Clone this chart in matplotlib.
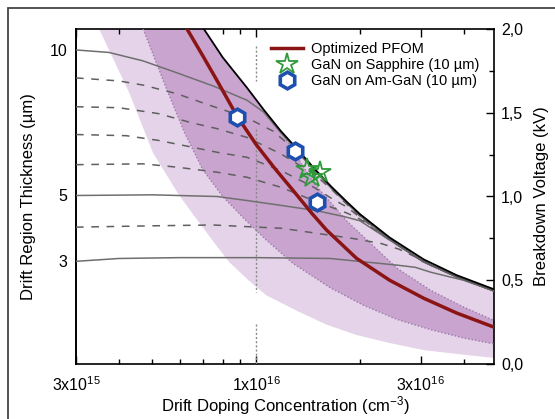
import matplotlib
matplotlib.use("Agg")
import matplotlib.pyplot as plt
from matplotlib.patches import Rectangle
from matplotlib.ticker import FixedLocator, NullFormatter

plt.rcParams['font.family'] = ['Liberation Sans', 'DejaVu Sans']
plt.rcParams['mathtext.fontset'] = 'custom'
plt.rcParams['mathtext.rm'] = 'Liberation Sans'
plt.rcParams['mathtext.it'] = 'Liberation Sans:italic'

# doping in 1e16 cm^-3, breakdown voltage in kV
black_n = [0.705, 0.80, 0.94, 1.05, 1.18, 1.32, 1.47, 1.65, 1.84, 2.0, 2.44, 3.06, 3.82, 4.9]
black_bv = [2.0, 1.83, 1.65, 1.52, 1.39, 1.28, 1.17, 1.06, 0.965, 0.895, 0.755, 0.625, 0.53, 0.446]

red_n = [0.63, 0.70, 0.766, 0.88, 1.0, 1.13, 1.28, 1.45, 1.6, 1.955, 2.44, 3.06, 3.82, 4.9]
red_bv = [2.0, 1.84, 1.70, 1.48, 1.31, 1.17, 1.036, 0.90, 0.80, 0.631, 0.50, 0.393, 0.304, 0.22]

light_n = [0.35, 0.428, 0.502, 0.598, 0.68, 0.766, 0.836, 0.95, 1.07, 1.335, 1.6, 1.955, 2.44, 3.06, 3.82, 4.9]
light_bv = [2.0, 1.62, 1.26, 1.006, 0.85, 0.708, 0.607, 0.50, 0.41, 0.31, 0.235, 0.173, 0.125, 0.083, 0.06, 0.036]

dark_lo_n = [0.47, 0.545, 0.62, 0.70, 0.80, 0.92, 1.07, 1.28, 1.64, 2.05, 2.57, 3.21, 4.0, 4.9]
dark_lo_bv = [2.0, 1.66, 1.38, 1.16, 1.0, 0.87, 0.74, 0.60, 0.455, 0.35, 0.265, 0.205, 0.155, 0.12]

dark_hi_n = [1.18, 1.47, 1.84, 2.2, 2.57, 3.21, 4.0, 4.9]
dark_hi_bv = [1.39, 1.08, 0.85, 0.70, 0.57, 0.44, 0.34, 0.26]

# constant-thickness curves (um)
t10_n = [0.3, 0.374, 0.469, 0.586, 0.75, 0.94, 1.05, 1.18, 1.32, 1.47, 1.65, 2.0, 2.44, 3.06, 3.82, 4.9]
t10_bv = [1.875, 1.86, 1.81, 1.74, 1.66, 1.575, 1.505, 1.38, 1.27, 1.16, 1.05, 0.885, 0.745, 0.61, 0.52, 0.436]
t9_n = [0.3, 0.4, 0.47, 0.59, 0.72, 0.94, 1.12, 1.32, 1.47, 1.65, 2.0, 2.44, 3.06, 3.82, 4.9]
t9_bv = [1.708, 1.69, 1.665, 1.613, 1.55, 1.47, 1.39, 1.265, 1.16, 1.05, 0.885, 0.745, 0.61, 0.52, 0.436]
t8_n = [0.3, 0.4, 0.52, 0.65, 0.77, 0.94, 1.18, 1.47, 1.65, 1.84, 2.0, 2.44, 3.06, 3.82, 4.9]
t8_bv = [1.536, 1.53, 1.495, 1.44, 1.405, 1.353, 1.254, 1.135, 1.045, 0.95, 0.885, 0.745, 0.61, 0.52, 0.436]
t7_n = [0.3, 0.42, 0.52, 0.65, 0.77, 0.94, 1.18, 1.47, 1.65, 1.84, 2.0, 2.44, 3.06, 3.82, 4.9]
t7_bv = [1.37, 1.363, 1.335, 1.295, 1.264, 1.234, 1.155, 1.055, 0.99, 0.935, 0.875, 0.745, 0.61, 0.52, 0.436]
t6_n = [0.3, 0.47, 0.59, 0.77, 0.94, 1.18, 1.47, 1.84, 2.0, 2.44, 3.06, 3.82, 4.9]
t6_bv = [1.19, 1.195, 1.175, 1.145, 1.115, 1.055, 0.975, 0.90, 0.865, 0.74, 0.61, 0.52, 0.436]
t5_n = [0.3, 0.5, 0.77, 0.94, 1.19, 1.5, 1.8, 2.0, 2.2, 2.44, 3.06, 3.82, 4.9]
t5_bv = [1.006, 1.01, 1.0, 0.976, 0.946, 0.915, 0.88, 0.855, 0.80, 0.74, 0.61, 0.52, 0.436]
t4_n = [0.3, 0.5, 0.75, 0.94, 1.19, 1.5, 1.9, 2.3, 2.6, 3.0, 3.82, 4.9]
t4_bv = [0.817, 0.825, 0.83, 0.82, 0.81, 0.78, 0.75, 0.72, 0.685, 0.625, 0.52, 0.436]
t3_n = [0.3, 0.4, 0.6, 1.0, 1.64, 2.57, 2.9, 3.21, 4.0, 4.9]
t3_bv = [0.613, 0.63, 0.635, 0.635, 0.63, 0.59, 0.577, 0.548, 0.50, 0.436]

sapphire_n = [1.405, 1.536, 1.45]
sapphire_bv = [1.165, 1.145, 1.115]
amgan_n = [0.879, 1.30, 1.503]
amgan_bv = [1.476, 1.27, 0.97]

thick_labels = ['10', '5', '3']
thick_pos = [1.875, 1.006, 0.613]
x_major = [0.3, 1.0, 3.0]
x_labels = [r'3x10$^{15}$', r'1x10$^{16}$', r'3x10$^{16}$']


def to_cm(vals):
    return [v * 1e16 for v in vals]


fig = plt.figure(figsize=(5.55, 4.19), dpi=100)
ax = fig.add_axes([76 / 555, 55 / 419, 418 / 555, 335 / 419])

light_col = '#e5d4e9'
dark_col = '#c9a4cf'
edge_col = '#9c7aa9'

# light band: lower curve then black curve back
lx = to_cm(light_n) + to_cm(black_n[::-1])
ly = light_bv + black_bv[::-1]
ax.fill(lx, ly, color=light_col, lw=0, zorder=1)

# dark band: lower curve, then dotted upper curve, then black back to top
top_n = dark_hi_n[::-1] + [n for n in black_n[::-1] if n < dark_hi_n[0]]
top_bv = dark_hi_bv[::-1] + [b for n, b in zip(black_n[::-1], black_bv[::-1]) if n < dark_hi_n[0]]
dx = to_cm(dark_lo_n) + to_cm(top_n)
dy = dark_lo_bv + top_bv
ax.fill(dx, dy, color=dark_col, lw=0, zorder=2)
ax.plot(to_cm(dark_lo_n), dark_lo_bv, color=edge_col, lw=1, ls=(0, (1, 1.5)), zorder=3)
ax.plot(to_cm(dark_hi_n), dark_hi_bv, color=edge_col, lw=1, ls=(0, (1, 1.5)), zorder=3)

# vertical marker at 1e16
for y0, y1 in [(1.90, 1.69), (1.40, 0.43), (0.24, 0.0)]:
    ax.plot([1e16, 1e16], [y0, y1], color='#8a8a8a', lw=1, ls=(0, (1.5, 1.5)), zorder=3)

gray = '#6f6f6f'
for n, bv in [(t10_n, t10_bv), (t5_n, t5_bv), (t3_n, t3_bv)]:
    ax.plot(to_cm(n), bv, color=gray, lw=1.1, zorder=4)
for n, bv in [(t9_n, t9_bv), (t8_n, t8_bv), (t7_n, t7_bv), (t6_n, t6_bv), (t4_n, t4_bv)]:
    ax.plot(to_cm(n), bv, color='#5f5f5f', lw=1.1, ls=(0, (5, 5)), zorder=4)

ax.plot(to_cm(black_n), black_bv, color='black', lw=1.3, zorder=5)
ax.plot(to_cm(red_n), red_bv, color='#8b1414', lw=2.5, zorder=6, label='Optimized PFOM')
ax.plot(to_cm(sapphire_n), sapphire_bv, ls='none', marker='*', ms=16, mfc='none',
        mec='#2f9a3a', mew=1.3, zorder=7, label='GaN on Sapphire (10 µm)')
ax.plot(to_cm(amgan_n), amgan_bv, ls='none', marker='h', ms=12, mfc='white',
        mec='#1f4fae', mew=2.6, zorder=8, label='GaN on Am-GaN (10 µm)')

ax.set_xscale('log')
ax.set_xlim(3e15, 4.9e16)
ax.set_ylim(0, 2.0)

ax.xaxis.set_major_locator(FixedLocator(to_cm(x_major)))
ax.set_xticklabels(x_labels)
ax.xaxis.set_minor_locator(FixedLocator(to_cm([0.4, 0.5, 0.6, 0.7, 0.8, 0.9, 2.0, 4.0])))
ax.xaxis.set_minor_formatter(NullFormatter())
ax.tick_params(axis='x', which='both', direction='in', top=True, labelsize=11.5, pad=8)
ax.tick_params(axis='x', which='major', length=6, width=1)
ax.tick_params(axis='x', which='minor', length=3.5, width=1)

# breakdown voltage on right
ax.yaxis.tick_right()
ax.yaxis.set_label_position('right')
ax.set_yticks([0, 0.5, 1.0, 1.5, 2.0])
ax.set_yticklabels(['0,0', '0,5', '1,0', '1,5', '2,0'])
ax.yaxis.set_minor_locator(FixedLocator([0.25, 0.75, 1.25, 1.75]))
ax.tick_params(axis='y', which='both', direction='in', left=False, right=True, labelsize=11.5, pad=5)
ax.tick_params(axis='y', which='major', length=6, width=1)
ax.tick_params(axis='y', which='minor', length=3.5, width=1)
ax.set_ylabel('Breakdown Voltage (kV)', fontsize=12, labelpad=8)

# thickness on left
sec = ax.secondary_yaxis('left')
sec.set_yticks(thick_pos)
sec.set_yticklabels(thick_labels)
sec.tick_params(length=0, labelsize=11.5, pad=6)
sec.set_ylabel('Drift Region Thickness (µm)', fontsize=12, labelpad=10)

ax.set_xlabel('Drift Doping Concentration (cm$^{-3}$)', fontsize=12, labelpad=0)

for sp in list(ax.spines.values()) + list(sec.spines.values()):
    sp.set_linewidth(1.2)

ax.legend(loc='upper left', bbox_to_anchor=(0.443, 0.992), frameon=False, fontsize=10.5,
          handlelength=2.2, handletextpad=0.5, labelspacing=0.15, borderpad=0.2)

fig.patches.append(Rectangle((8 / 555, -0.2), 1.2, 1.2 - 8 / 419 + 0.001, transform=fig.transFigure,
                             fill=False, edgecolor='#444444', lw=1.3))

fig.savefig('out.png', dpi=100)
